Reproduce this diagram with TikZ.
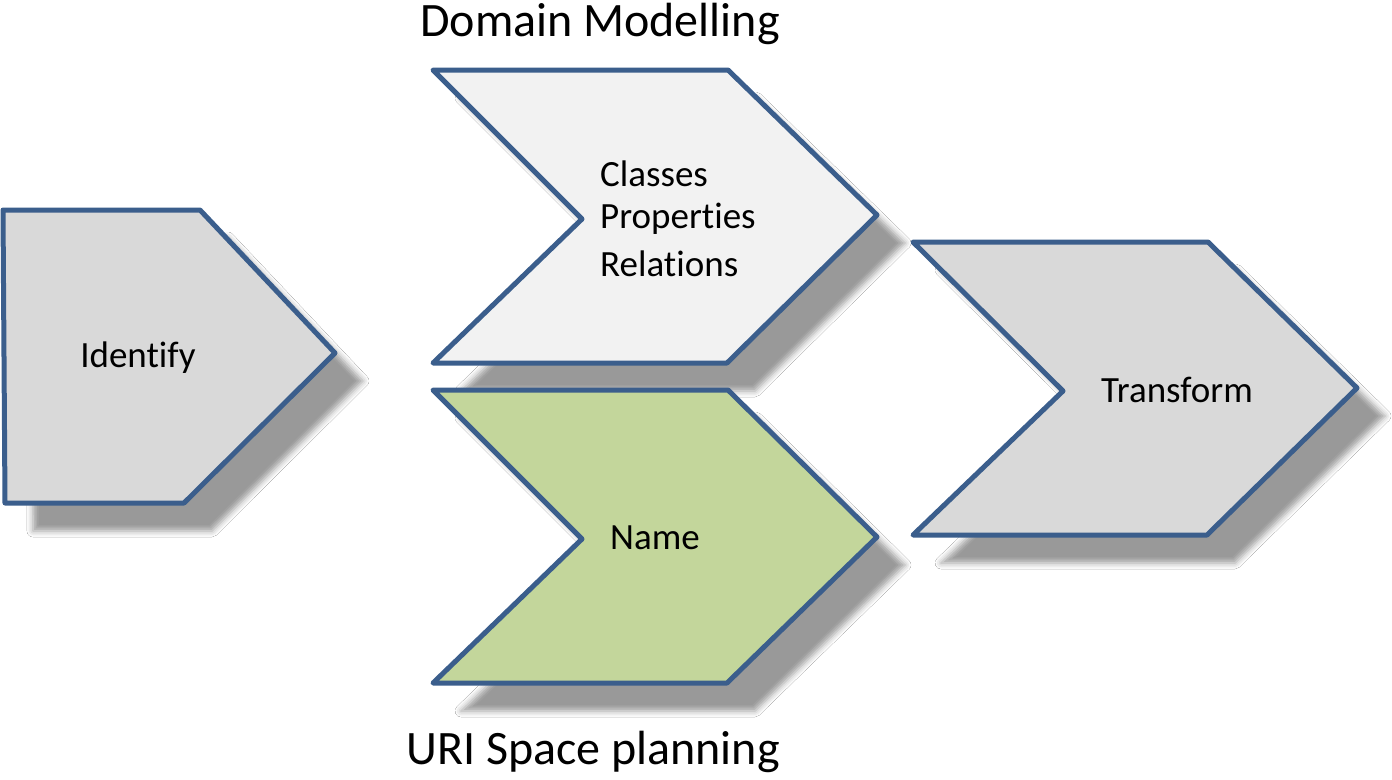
\documentclass[tikz,border=0pt]{standalone}
\usepackage{fontspec}
\setmainfont{Carlito}[Ligatures=NoCommon]
\usetikzlibrary{shadows.blur}
\definecolor{edgeblue}{HTML}{3B5E8C}
\definecolor{gfill}{HTML}{D9D9D9}
\definecolor{lfill}{HTML}{F2F2F2}
\definecolor{nfill}{HTML}{C3D69B}
\tikzset{
  chev/.style={draw=edgeblue, line width=5pt, line join=round,
    blur shadow={shadow xshift=28pt, shadow yshift=-28pt, shadow blur radius=6pt, shadow opacity=40}},
  lbl/.style={font=\fontsize{37}{45}\selectfont, inner sep=0pt},
  big/.style={font=\fontsize{48}{54}\selectfont, inner sep=0pt}
}
\begin{document}
\begin{tikzpicture}[x=1pt,y=-1pt]
\useasboundingbox[fill=white] (0,0) rectangle (1392,779);
% Identify
\path[chev, fill=gfill] (3,210) -- (200,210) -- (335,353) -- (184,503) -- (5,503) -- cycle;
% Domain modelling chevron
\path[chev, fill=lfill] (433,70) -- (728,70) -- (877,215) -- (727,363) -- (433,363) -- (582,219) -- cycle;
% Name chevron
\path[chev, fill=nfill] (433,390) -- (728,390) -- (877,537) -- (727,683) -- (433,683) -- (582,539) -- cycle;
% Transform chevron
\path[chev, fill=gfill] (913,242) -- (1208,242) -- (1357,388) -- (1207,535) -- (913,535) -- (1063,391) -- cycle;
% labels
\node[lbl] (identify) at (138,358) {Identify};
\node[lbl, anchor=west] (classes) at (600,174) {Classes};
\node[lbl, anchor=west] (properties) at (600,219) {Properties};
\node[lbl, anchor=west] (relations) at (600,264) {Relations};
\node[lbl] (name) at (655,538) {Name};
\node[lbl] (transform) at (1177,390) {Transform};
\node[big] (domain) at (600,24) {Domain Modelling};
\node[big] (uri) at (593,752) {URI Space planning};
\end{tikzpicture}
\end{document}
